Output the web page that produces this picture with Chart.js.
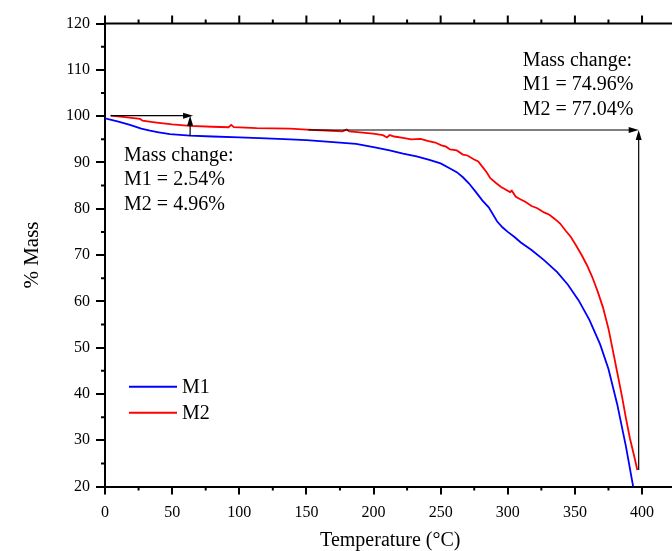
<!DOCTYPE html>
<html><head><meta charset="utf-8">
<script src="https://cdn.jsdelivr.net/npm/chart.js@4/dist/chart.umd.min.js"></script>
<style>html,body{margin:0;padding:0;overflow:hidden;background:#fff}#wrap{width:672px;height:551px;overflow:hidden;position:relative}canvas{display:block}</style>
</head><body><div id="wrap"><canvas id="c" width="680" height="551" style="width:680px;height:551px"></canvas></div>
<script>
// ---- data ----
const tempM1 = [0,10,18.6,27,33.5,40,48.4,63.3,80,100,120,137.8,150,170,187,200,212,222,232,241,250,257,262,266.6,271,276,281,285.8,292,296,300,305,309.7,317.7,327,336.8,344.8,352.8,360.8,368.8,375,381.5,388,393.4];
const massM1 = [99.5,98.8,98.1,97.3,96.85,96.5,96.1,95.8,95.6,95.4,95.2,95.0,94.8,94.4,94.0,93.3,92.6,91.9,91.3,90.6,89.8,88.7,87.9,86.8,85.5,83.7,81.8,80.3,77.3,76.0,75.0,73.9,72.7,71.1,68.9,66.3,63.6,60.2,56.0,50.7,45.4,37.8,28.7,20.0];
const tempM2 = [4.2,15,26,28,33,38.5,50,63.3,80,92,94,96,113,137.8,150,165,177,180,182,190,199.6,207,210,212,215.5,222,228,235,241,246,250.6,254,257,262,266.6,270,274.6,278,281,284,287,291,295,298,301.7,303,306,309.7,313,317.7,322,327,331,335,339,343,347,351,355,359,363,367,371,375,378,381.5,385,388,391,394.3,396.5];
const massM2 = [100.1,99.8,99.4,99.0,98.8,98.6,98.2,97.9,97.7,97.6,98.1,97.6,97.4,97.3,97.1,96.9,96.7,97.1,96.7,96.5,96.2,95.9,95.4,95.9,95.6,95.3,95.0,95.1,94.6,94.3,93.7,93.4,92.8,92.6,91.7,91.5,90.7,90.2,89.1,88.0,86.6,85.6,84.7,84.2,83.6,83.9,82.6,82.0,81.5,80.6,80.1,79.2,78.7,77.8,76.8,75.3,73.9,72.0,70.0,67.8,65.2,62.1,58.6,54.1,49.8,44.7,39.6,34.8,30.4,26.4,23.6];
const seriesNames = ['M1','M2'];
const xMinorTicks = [25,75,125,175,225,275,325,375,425];
const xMajorTicks = [0,50,100,150,200,250,300,350,400];
const yMinorTicks = [25,35,45,55,65,75,85,95,105,115];
// arrows [x1,y1,x2,y2] in data units, head at (x2,y2)
const arrows = [
  [4.2,100.1,65.6,100.1],
  [63.4,95.7,63.4,100.1],
  [151.5,97.0,397.5,97.0],
  [397.5,23.6,397.5,97.0]
];
const noteLeft = {x:14.2, y:90.37, lines:['Mass change:','M1 = 2.54%','M2 = 4.96%']};
const noteRight = {x:311.1, y:110.9, lines:['Mass change:','M1 = 74.96%','M2 = 77.04%']};

const SERIF = "'Liberation Serif','Times New Roman',serif";
const toPts = (xs, ys) => xs.map((x,i)=>({x, y:ys[i]}));

const extras = {
  id:'extras',
  afterDatasetsDraw(chart){
    const {ctx, chartArea:a, scales:{x,y}} = chart;
    ctx.save();
    ctx.strokeStyle='#000'; ctx.fillStyle='#000';
    // top border + ticks
    ctx.lineWidth=2;
    ctx.beginPath(); ctx.moveTo(a.left-1, a.top); ctx.lineTo(a.right, a.top); ctx.stroke();
    ctx.beginPath();
    xMajorTicks.forEach(v=>{const p=x.getPixelForValue(v); ctx.moveTo(p,a.top); ctx.lineTo(p,a.top-8);});
    xMinorTicks.forEach(v=>{const p=x.getPixelForValue(v); ctx.moveTo(p,a.top); ctx.lineTo(p,a.top-4);
      ctx.moveTo(p,a.bottom); ctx.lineTo(p,a.bottom+4);});
    yMinorTicks.forEach(v=>{const p=y.getPixelForValue(v); ctx.moveTo(a.left,p); ctx.lineTo(a.left-4,p);});
    ctx.stroke();
    // arrows
    ctx.lineWidth=1.2;
    arrows.forEach(([x1,y1,x2,y2])=>{
      const px1=x.getPixelForValue(x1), py1=y.getPixelForValue(y1);
      const px2=x.getPixelForValue(x2), py2=y.getPixelForValue(y2);
      const ang=Math.atan2(py2-py1, px2-px1);
      const L=10, W=3;
      ctx.beginPath(); ctx.moveTo(px1,py1); ctx.lineTo(px2-Math.cos(ang)*L*0.8, py2-Math.sin(ang)*L*0.8); ctx.stroke();
      ctx.beginPath();
      ctx.moveTo(px2,py2);
      ctx.lineTo(px2-Math.cos(ang)*L - Math.sin(ang)*W, py2-Math.sin(ang)*L + Math.cos(ang)*W);
      ctx.lineTo(px2-Math.cos(ang)*L + Math.sin(ang)*W, py2-Math.sin(ang)*L - Math.cos(ang)*W);
      ctx.closePath(); ctx.fill();
    });
    // notes
    ctx.font = '20px '+SERIF; ctx.textAlign='left'; ctx.textBaseline='alphabetic';
    [noteLeft, noteRight].forEach(n=>{
      const px=x.getPixelForValue(n.x), py=y.getPixelForValue(n.y);
      n.lines.forEach((t,i)=>ctx.fillText(t, px, py+i*24.7));
    });
    // legend
    chart.data.datasets.forEach((ds,i)=>{
      const ly = a.top + 363.2 + i*26;
      ctx.strokeStyle = ds.borderColor; ctx.lineWidth=2;
      ctx.beginPath(); ctx.moveTo(a.left+24, ly); ctx.lineTo(a.left+72, ly); ctx.stroke();
      ctx.fillStyle='#000';
      ctx.fillText(ds.label, a.left+77, ly+6.6);
    });
    ctx.restore();
  }
};

new Chart(document.getElementById('c'), {
  type:'line',
  data:{datasets:[
    {label:seriesNames[0], data:toPts(tempM1,massM1), borderColor:'#0000ff', borderWidth:1.8, pointRadius:0, tension:0, fill:false},
    {label:seriesNames[1], data:toPts(tempM2,massM2), borderColor:'#ff0000', borderWidth:1.8, pointRadius:0, tension:0, fill:false}
  ]},
  options:{
    responsive:false, animation:false, devicePixelRatio:1,
    layout:{padding:{left:0, top:23.5, right:4.4, bottom:0}},
    plugins:{legend:{display:false}, tooltip:{enabled:false}},
    scales:{
      x:{type:'linear', min:0, max:425,
        afterFit(s){ s.height = 551-486.6; },
        ticks:{stepSize:50, includeBounds:false, color:'#000', font:{family:SERIF, size:16}, padding:9, maxRotation:0},
        grid:{display:true, drawOnChartArea:false, drawTicks:true, tickLength:8, color:'#000', lineWidth:2},
        border:{display:true, color:'#000', width:2},
        title:{display:true, text:'Temperature (°C)', color:'#000', font:{family:SERIF, size:20}, padding:{top:0, bottom:-2}}
      },
      y:{type:'linear', min:20, max:120,
        afterFit(s){ s.width = 105; },
        ticks:{stepSize:10, color:'#000', font:{family:SERIF, size:16}, padding:6},
        grid:{display:true, drawOnChartArea:false, drawTicks:true, tickLength:9, color:'#000', lineWidth:2},
        border:{display:true, color:'#000', width:2},
        title:{display:true, text:'% Mass', color:'#000', font:{family:SERIF, size:21}, padding:{top:20, bottom:0}}
      }
    }
  },
  plugins:[extras]
});
</script></body></html>
